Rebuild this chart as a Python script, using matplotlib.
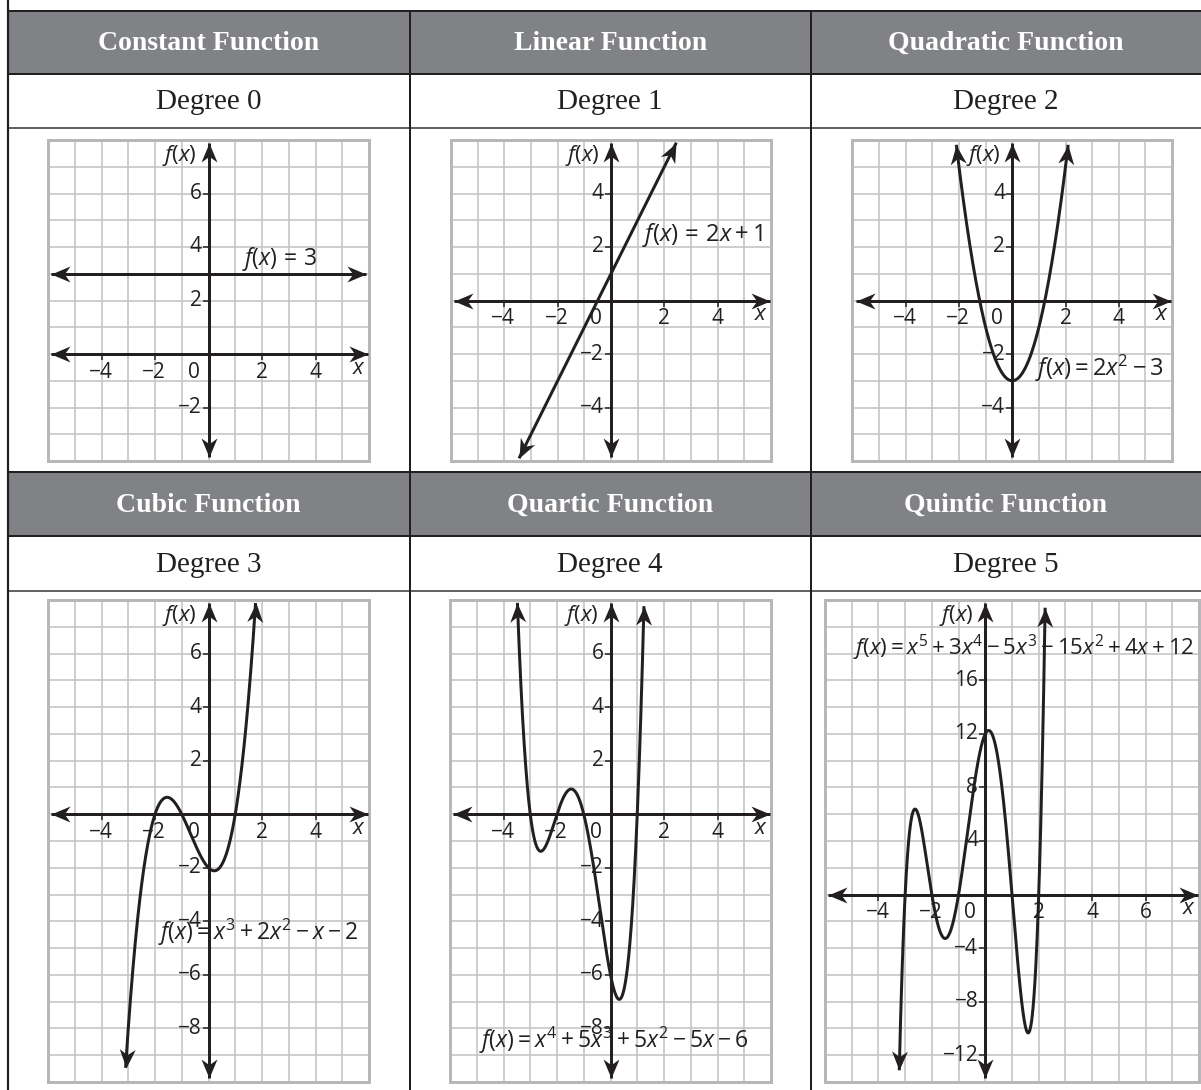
import numpy as np
import matplotlib
matplotlib.use("Agg")
import matplotlib.pyplot as plt
from matplotlib.markers import MarkerStyle
from matplotlib.transforms import Affine2D
from matplotlib.patches import Rectangle

# ---------------- data ----------------
titles = ["Constant Function", "Linear Function", "Quadratic Function",
          "Cubic Function", "Quartic Function", "Quintic Function"]
degrees = ["Degree 0", "Degree 1", "Degree 2", "Degree 3", "Degree 4", "Degree 5"]
equations = [r"$f(x)\,=\,3$",
             r"$f(x)\,=\,2x + 1$",
             r"$f(x) = 2x^2 - 3$",
             r"$f(x) = x^3 + 2x^2 - x - 2$",
             r"$f(x) = x^4 + 5x^3 + 5x^2 - 5x - 6$",
             r"$f(x) = x^5 + 3x^4 - 5x^3 - 15x^2 + 4x + 12$"]
coef_constant = [3]
coef_linear = [2, 1]
coef_quadratic = [2, 0, -3]
coef_cubic = [1, 2, -1, -2]
coef_quartic = [1, 5, 5, -5, -6]
coef_quintic = [1, 3, -5, -15, 4, 12]
coefficients = [coef_constant, coef_linear, coef_quadratic,
                coef_cubic, coef_quartic, coef_quintic]
curve_x_start = [-5.88, -3.45, -2.1, -3.1, -3.48, -3.22]
curve_x_end = [5.88, 2.45, 2.1, 1.76, 1.25, 2.24]
x_limits = [(-6, 6), (-6, 6), (-6, 6), (-6, 6), (-6, 6), (-6, 8)]
y_limits = [(-4, 8), (-6, 6), (-6, 6), (-10, 8), (-10, 8), (-14, 22)]
y_grid_step = [1, 1, 1, 1, 1, 2]
x_tick_values = [[-4, -2, 2, 4]] * 5 + [[-4, -2, 2, 4, 6]]
y_tick_values = [[6, 4, 2, -2], [4, 2, -2, -4], [4, 2, -2, -4],
                 [6, 4, 2, -2, -4, -6, -8], [6, 4, 2, -2, -4, -6, -8],
                 [16, 12, 8, 4, -4, -8, -12]]

# ---------------- layout / style ----------------
W, H, DPI = 1201, 1090, 100
PT = 72.0 / DPI
DARK = "#231f20"
HEADER = "#808285"
GRID = "#c3c4c6"
BORDER = "#b6b7b9"
TICK_SIZE = 15

eq_pos = [(1.26, 3.57), (1.18, 2.43), (0.86, -2.52),
          (-1.9, -4.43), (-4.9, -8.43), (-4.95, 18.4)]
eq_size = [16.5, 17, 17, 16.5, 16.5, 16.0]
boxes = [(48, 140, 369, 461), (451, 140, 771, 461), (852.5, 140, 1172, 461),
         (48, 600, 369, 1082), (450, 600, 771, 1082), (825, 600, 1199, 1082)]
col_x = [8, 409.5, 811, W]
rows = [(10.7, 74, 128), (472, 536, 591)]

plt.rcParams["font.family"] = ["Open Sans", "DejaVu Sans"]
plt.rcParams["mathtext.fontset"] = "custom"
plt.rcParams["mathtext.rm"] = "Open Sans"
plt.rcParams["mathtext.it"] = "Open Sans:italic"
plt.rcParams["mathtext.bf"] = "Open Sans:bold"

fig = plt.figure(figsize=(W / DPI, H / DPI), dpi=DPI)
fig.patch.set_facecolor("white")

bg = fig.add_axes([0, 0, 1, 1], zorder=0)
bg.set_xlim(0, W)
bg.set_ylim(H, 0)
bg.axis("off")

for (ht, hb, db) in rows:
    bg.add_patch(Rectangle((col_x[0], ht), W - col_x[0], hb - ht, fc=HEADER, ec="none"))
    bg.plot([col_x[0], W], [ht, ht], color=DARK, lw=2 * PT)
    bg.plot([col_x[0], W], [hb, hb], color=DARK, lw=2 * PT)
    bg.plot([col_x[0], W], [db, db], color="#3d3d3f", lw=1.6 * PT)
bg.plot([8, 8], [0, H], color=DARK, lw=2.2 * PT)
for cx in col_x[1:3]:
    bg.plot([cx, cx], [rows[0][0], H], color=DARK, lw=2 * PT)

for i in range(6):
    r, c = divmod(i, 3)
    cx = (col_x[c] + col_x[c + 1]) / 2
    ht, hb, db = rows[r]
    bg.text(cx, (ht + hb) / 2 + 1, titles[i], ha="center", va="center",
            family="Liberation Serif", weight="bold", color="white", size=20)
    bg.text(cx, (hb + db) / 2 + 1, degrees[i], ha="center", va="center",
            family="Liberation Serif", color=DARK, size=21)

STEALTH = [(0, 0), (-1, 0.42), (-0.7, 0), (-1, -0.42), (0, 0)]


def arrowhead(ax, x, y, xp, yp, L=19):
    p1 = ax.transData.transform((xp, yp))
    p2 = ax.transData.transform((x, y))
    ang = np.degrees(np.arctan2(p2[1] - p1[1], p2[0] - p1[0]))
    m = MarkerStyle(STEALTH, transform=Affine2D().rotate_deg(ang))
    ax.plot([x], [y], ls="none", marker=m, ms=2 * L * PT, mfc=DARK, mec=DARK,
            mew=0, clip_on=False, zorder=6)


def minus(v):
    return ("\u2212" + str(abs(v))) if v < 0 else str(v)


for i in range(6):
    l, t, rr, b = boxes[i]
    ax = fig.add_axes([l / W, 1 - b / H, (rr - l) / W, (b - t) / H], zorder=2)
    x0, x1 = x_limits[i]
    y0, y1 = y_limits[i]
    ax.set_xlim(x0, x1)
    ax.set_ylim(y0, y1)
    ax.set_xticks(np.arange(x0, x1 + 1, 1))
    ax.set_yticks(np.arange(y0, y1 + 1, y_grid_step[i]))
    ax.tick_params(length=0, labelbottom=False, labelleft=False)
    ax.grid(True, color=GRID, lw=1.6 * PT)
    ax.set_axisbelow(True)
    for sp in ax.spines.values():
        sp.set_color(BORDER)
        sp.set_linewidth(3 * PT)

    ux = (x1 - x0) / (rr - l)   # data units per pixel
    uy = (y1 - y0) / (b - t)

    # coordinate axes with arrows
    xa0, xa1 = x0 + 3 * ux, x1 - 1.5 * ux
    ya0, ya1 = y0 + 4 * uy, y1 - 3 * uy
    ax.plot([xa0, xa1], [0, 0], color=DARK, lw=3 * PT, clip_on=False, zorder=4,
            solid_capstyle="butt")
    ax.plot([0, 0], [ya0, ya1], color=DARK, lw=3 * PT, clip_on=False, zorder=4,
            solid_capstyle="butt")
    arrowhead(ax, xa1, 0, 0, 0)
    arrowhead(ax, xa0, 0, 0, 0)
    arrowhead(ax, 0, ya1, 0, 0)
    arrowhead(ax, 0, ya0, 0, 0)

    # tick marks and labels
    xt = x_tick_values[i]
    yt = y_tick_values[i]
    ax.plot(xt, [0] * len(xt), ls="none", marker=3, ms=6 * PT, mew=1.5 * PT,
            color=DARK, zorder=4)
    ax.plot([0] * len(yt), yt, ls="none", marker=0, ms=6 * PT, mew=1.5 * PT,
            color=DARK, zorder=4)
    for v in xt:
        ax.annotate(minus(v), (v, 0), xytext=(-1 if v < 0 else 0, -18),
                    textcoords="offset pixels", ha="center", va="center",
                    size=TICK_SIZE, color=DARK, zorder=5)
    for v in yt:
        ax.annotate(minus(v), (0, v), xytext=(-7, 0), textcoords="offset pixels",
                    ha="right", va="center", size=TICK_SIZE, color=DARK, zorder=5)
    ax.annotate("0", (0, 0), xytext=(-15, -18), textcoords="offset pixels",
                ha="center", va="center", size=TICK_SIZE, color=DARK, zorder=5)
    ax.annotate(r"$x$", (x1, 0), xytext=(-10, -14), textcoords="offset pixels",
                ha="center", va="center", size=16, color=DARK, zorder=5)
    ax.annotate(r"$f(x)$", (0, y1), xytext=(-12, -16), textcoords="offset pixels",
                ha="right", va="center", size=16, color=DARK, zorder=5)

    # the function curve
    xs = np.linspace(curve_x_start[i], curve_x_end[i], 600)
    ys = np.polyval(coefficients[i], xs)
    ax.plot(xs, ys, color=DARK, lw=3 * PT, clip_on=False, zorder=5,
            solid_capstyle="butt")
    arrowhead(ax, xs[-1], ys[-1], xs[-4], ys[-4])
    arrowhead(ax, xs[0], ys[0], xs[3], ys[3])

    ax.text(eq_pos[i][0], eq_pos[i][1], equations[i], ha="left", va="center",
            size=eq_size[i], color=DARK, zorder=5)

fig.savefig("out.png", dpi=DPI, facecolor="white")
